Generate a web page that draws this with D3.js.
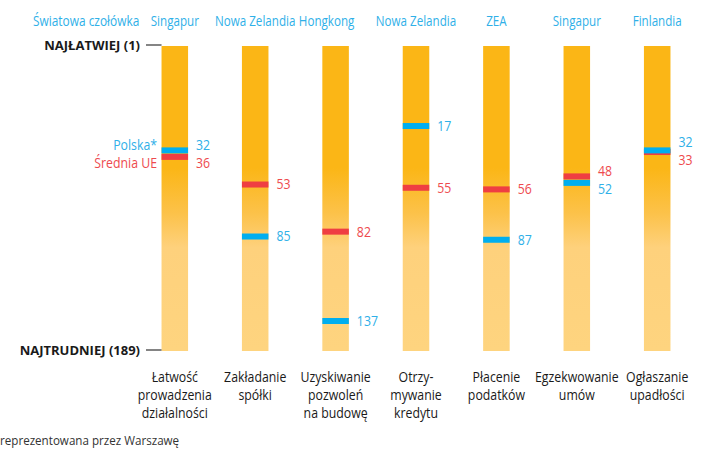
<!DOCTYPE html>
<html>
<head>
<meta charset="utf-8">
<script src="https://cdn.jsdelivr.net/npm/d3@7"></script>
<style>
  body { margin: 0; background: #fff; }
  svg text { font-family: "Open Sans", "Noto Sans", sans-serif; }
</style>
</head>
<body>
<div id="chart"></div>
<script>
// rankings Doing Business, 1 = easiest, 189 = hardest
const categories = [
  ["Łatwość", "prowadzenia", "działalności"],
  ["Zakładanie", "spółki"],
  ["Uzyskiwanie", "pozwoleń", "na budowę"],
  ["Otrzy-", "mywanie", "kredytu"],
  ["Płacenie", "podatków"],
  ["Egzekwowanie", "umów"],
  ["Ogłaszanie", "upadłości"]
];
const leaders = ["Singapur", "Nowa Zelandia", "Hongkong", "Nowa Zelandia", "ZEA", "Singapur", "Finlandia"];
const polska = [32, 85, 137, 17, 87, 52, 32];
const sredniaUE = [36, 53, 82, 55, 56, 48, 33];

const W = 702, H = 452;
const blue = "#00aeef", red = "#ef3e42";
const blueTxt = "#2fb0e8", redTxt = "#ee4a4e";
const SX = 0.88; // no condensed font installed, squeeze instead

const svg = d3.select("#chart").append("svg")
  .attr("width", W).attr("height", H);

// put a text at (px, py) and squeeze it horizontally
function place(sel, px, py, sx = SX) {
  sel.attr("x", 0).attr("y", 0)
    .attr("transform", (d, i) => {
      const a = typeof px === "function" ? px(d, i) : px;
      const b = typeof py === "function" ? py(d, i) : py;
      return `translate(${a},${b}) scale(${sx},1)`;
    });
  return sel;
}

const x = d3.scaleBand()
  .domain(d3.range(categories.length))
  .range([135, 697])
  .paddingInner(0.67)
  .paddingOuter(0.33);
const cx = i => x(i) + x.bandwidth() / 2;

// marker scale (rank -> y)
const y = d3.scaleLinear().domain([0, 189]).range([98.4, 405.5]);
const trackTop = 46, trackBottom = 351;

const defs = svg.append("defs");
const grad = defs.append("linearGradient")
  .attr("id", "fade").attr("x1", 0).attr("x2", 0).attr("y1", 0).attr("y2", 1);
grad.append("stop").attr("offset", "0.40").attr("stop-color", "#fbb616");
grad.append("stop").attr("offset", "0.55").attr("stop-color", "#fcc24a");
grad.append("stop").attr("offset", "0.66").attr("stop-color", "#fed17c");
grad.append("stop").attr("offset", "1").attr("stop-color", "#fed47f");

// bars
svg.append("g").selectAll("rect")
  .data(categories)
  .join("rect")
  .attr("x", (d, i) => x(i))
  .attr("y", trackTop)
  .attr("width", x.bandwidth())
  .attr("height", trackBottom - trackTop)
  .attr("fill", "url(#fade)");

// ends of scale
const ends = [
  {label: "NAJŁATWIEJ (1)", y: trackTop - 1},
  {label: "NAJTRUDNIEJ (189)", y: trackBottom - 1}
];
const endG = svg.append("g");
endG.selectAll("line").data(ends).join("line")
  .attr("x1", 146).attr("x2", x(0))
  .attr("y1", d => d.y).attr("y2", d => d.y)
  .attr("stroke", "#333").attr("stroke-width", 1.2);
endG.selectAll("text").data(ends).join("text")
  .attr("x", 140).attr("y", d => d.y)
  .attr("dy", "0.35em")
  .attr("text-anchor", "end")
  .attr("font-weight", "bold")
  .attr("font-size", 13)
  .attr("fill", "#1a1a1a")
  .text(d => d.label);

// header
place(svg.append("text"), 33, 21, 0.85)
  .attr("dy", "0.35em")
  .attr("font-size", 14).attr("fill", blueTxt)
  .text("Światowa czołówka");
place(svg.append("g").selectAll("text")
  .data(leaders)
  .join("text"), (d, i) => cx(i) - (i === 2 ? 9 : 0), 21, 0.83)
  .attr("dy", "0.35em")
  .attr("text-anchor", "middle")
  .attr("font-size", 14).attr("fill", blueTxt)
  .text(d => d);

// markers
const marks = [];
categories.forEach((c, i) => {
  marks.push({i, v: sredniaUE[i], color: red, txt: redTxt, key: "u" + i});
  marks.push({i, v: polska[i], color: blue, txt: blueTxt, key: "p" + i});
});
svg.append("g").selectAll("rect")
  .data(marks)
  .join("rect")
  .attr("x", d => x(d.i))
  .attr("y", d => y(d.v) - 3)
  .attr("width", x.bandwidth())
  .attr("height", 6)
  .attr("fill", d => d.color);

// value labels, pushed apart when close
const labelY = new Map();
categories.forEach((c, i) => {
  const a = y(polska[i]), b = y(sredniaUE[i]);
  const gap = 18;
  if (Math.abs(a - b) < gap) {
    const mid = (a + b) / 2;
    const s = a <= b ? -1 : 1;
    labelY.set("p" + i, mid + s * gap / 2);
    labelY.set("u" + i, mid - s * gap / 2);
  } else {
    labelY.set("p" + i, a);
    labelY.set("u" + i, b);
  }
});
place(svg.append("g").selectAll("text")
  .data(marks)
  .join("text"), d => x(d.i) + x.bandwidth() + 8, d => labelY.get(d.key))
  .attr("dy", "0.35em")
  .attr("font-size", 14)
  .attr("fill", d => d.txt)
  .text(d => d.v);

// legend at first bar
const legend = [
  {label: "Polska*", color: blueTxt, y: labelY.get("p0")},
  {label: "Średnia UE", color: redTxt, y: labelY.get("u0")}
];
place(svg.append("g").selectAll("text")
  .data(legend)
  .join("text"), 157, d => d.y)
  .attr("dy", "0.35em")
  .attr("text-anchor", "end")
  .attr("font-size", 14)
  .attr("fill", d => d.color)
  .text(d => d.label);

// category labels
const cat = place(svg.append("g").selectAll("text")
  .data(categories)
  .join("text"), (d, i) => cx(i), 377)
  .attr("text-anchor", "middle")
  .attr("font-size", 14)
  .attr("fill", "#1a1a1a");
cat.selectAll("tspan")
  .data(d => d)
  .join("tspan")
  .attr("x", 0)
  .attr("dy", (d, j) => j === 0 ? "0.35em" : 18)
  .text(d => d);

// footnote
place(svg.append("text"), 0, 441, 0.93)
  .attr("dy", "0.35em")
  .attr("font-size", 12.5).attr("fill", "#333")
  .text("reprezentowana przez Warszawę");
</script>
</body>
</html>
